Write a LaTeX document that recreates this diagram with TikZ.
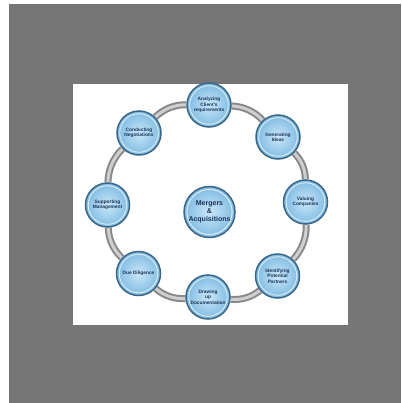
\documentclass[tikz,border=0pt]{standalone}
\usepackage{fontspec}
\setmainfont{Liberation Sans}
\usetikzlibrary{backgrounds}
\definecolor{bggray}{HTML}{767676}
\definecolor{navy}{HTML}{1B3158}
\definecolor{rimblue}{HTML}{3A6788}
\definecolor{ballin}{HTML}{C8E7F9}
\definecolor{ballout}{HTML}{7FBAE0}
\definecolor{tubedark}{HTML}{888888}
\definecolor{tubelight}{HTML}{CFCFCF}
\begin{document}
\begin{tikzpicture}[x=1pt,y=-1pt,
  ball/.style={circle, inner sep=0pt, align=center, text=navy, draw=rimblue,
    line width=1.5pt, shading=radial, inner color=ballin, outer color=ballout},
  ringball/.style={ball, minimum size=44pt,
    font=\fontsize{4.8}{5.3}\selectfont\bfseries,
    path picture={\draw[white,opacity=.7,line width=.9pt]
      (path picture bounding box.center) circle (19.3pt);}},
  hubball/.style={ball, minimum size=51pt,
    font=\fontsize{7}{8.2}\selectfont\bfseries,
    path picture={\draw[white,opacity=.7,line width=1pt]
      (path picture bounding box.center) circle (22.6pt);}},
  tube/.style={draw=tubedark, line width=2pt, double=tubelight,
    double distance=3pt, bend left=22.5, looseness=0.9}]
\useasboundingbox (0,0) rectangle (401,403);

\node[ringball] (ana) at (209,105) {Analyzing\\Client's\\requirements};
\node[ringball] (gen) at (278,137) {Generating\\Ideas};
\node[ringball] (val) at (305.5,202) {Valuing\\Companies};
\node[ringball] (ide) at (277.5,276) {Identifying\\Potential\\Partners};
\node[ringball] (dra) at (208,297) {Drawing\\up\\Documentation};
\node[ringball] (due) at (138.5,273.5) {Due Diligence};
\node[ringball] (sup) at (107.5,205) {Supporting\\Management};
\node[ringball] (con) at (139,133) {Conducting\\Negotiations};
\node[hubball] (hub) at (209.5,212) {Mergers\\\&\\Acquisitions};

\begin{pgfonlayer}{background}
\fill[white] (0,0) rectangle (401,403);
\fill[bggray] (9,4) rectangle (401,403);
\fill[white] (73,84) rectangle (348,325);
\draw[tube] (ana) to (gen);
\draw[tube] (gen) to (val);
\draw[tube] (val) to (ide);
\draw[tube] (ide) to (dra);
\draw[tube] (dra) to (due);
\draw[tube] (due) to (sup);
\draw[tube] (sup) to (con);
\draw[tube] (con) to (ana);
\end{pgfonlayer}
\end{tikzpicture}
\end{document}
